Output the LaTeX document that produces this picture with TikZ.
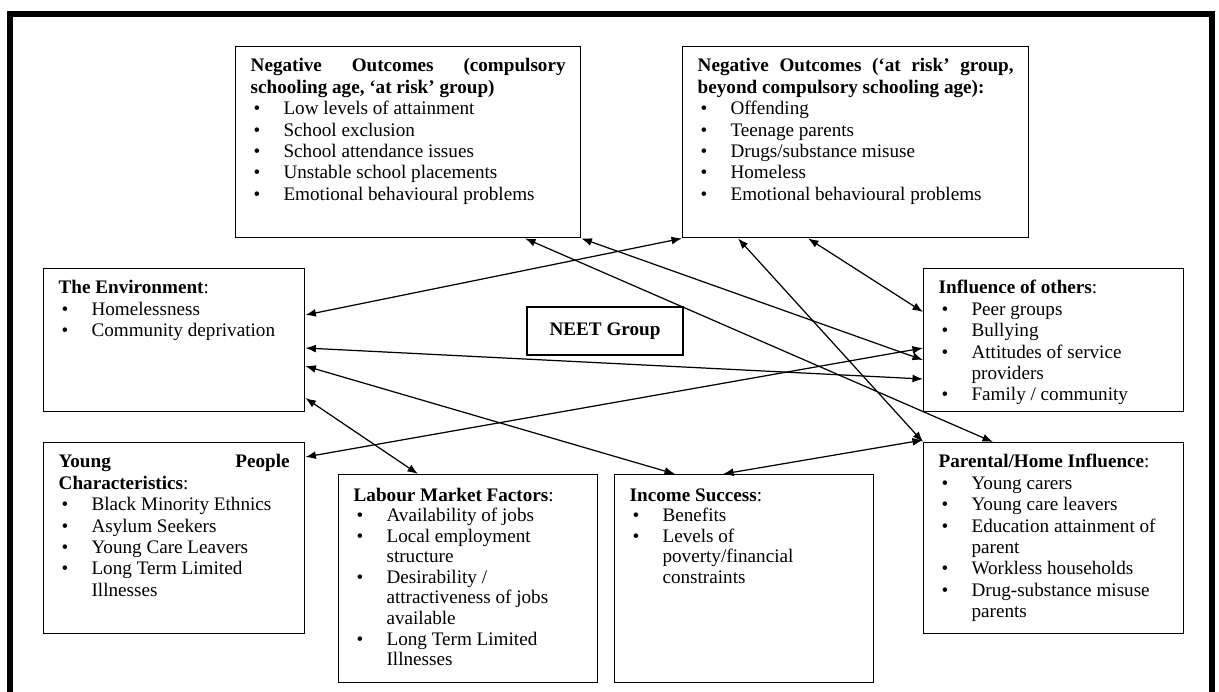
\documentclass[tikz,border=0pt]{standalone}
\usepackage{fontspec}
\setmainfont{Liberation Serif}
\usetikzlibrary{arrows.meta}

\newcommand{\boxtext}[3]{\parbox[c][\dimexpr#2cm-0.4cm\relax][t]{\dimexpr#1cm-0.6cm\relax}{\fontsize{10.9pt}{12.2pt}\selectfont\raggedright #3}}
\newcommand{\itm}{\par\hspace*{1.7pt}\makebox[17pt][l]{\textbullet}}
\newcommand{\cnt}{\par\hspace*{18.7pt}}

\begin{document}
\begin{tikzpicture}[x=0.02cm,y=-0.02cm]

\tikzstyle{box} = [draw=black,line width=0.8pt,inner xsep=0.3cm,inner ysep=0.2cm,anchor=north west]
\tikzstyle{edge} = [{Latex[length=6pt,width=4.5pt]}-{Latex[length=6pt,width=4.5pt]},line width=0.7pt]

\useasboundingbox (0,0) rectangle (1219,691);
\draw[line width=3.4pt] (10,14) rectangle (1212,720);

\node[box](negA) at (235,46){\boxtext{6.9}{3.82}{%
\hbox to\linewidth{\strut\bfseries Negative\hfill Outcomes\hfill (compulsory}
\textbf{schooling age, `at risk' group)}
\itm Low levels of attainment
\itm School exclusion
\itm School attendance issues
\itm Unstable school placements
\itm Emotional behavioural problems}};

\node[box](negB) at (682,46){\boxtext{6.92}{3.82}{%
\hbox to\linewidth{\strut\bfseries Negative\hfill Outcomes\hfill (`at\hfill risk'\hfill group,}
\textbf{beyond compulsory schooling age):}
\itm Offending
\itm Teenage parents
\itm Drugs/substance misuse
\itm Homeless
\itm Emotional behavioural problems}};

\node[box](env) at (43,268){\boxtext{5.22}{2.86}{%
\strut\textbf{The Environment}:
\itm Homelessness
\itm Community deprivation}};

\node[draw=black,line width=0.8pt,minimum width=3.12cm,minimum height=0.96cm](neet) at (605,331){\fontsize{10.9pt}{12.2pt}\selectfont\bfseries NEET Group};

\node[box](infl) at (923,268){\boxtext{5.2}{2.86}{%
\strut\textbf{Influence of others}:
\itm Peer groups
\itm Bullying
\itm Attitudes of service
\cnt providers
\itm Family / community}};

\node[box](young) at (43,442){\boxtext{5.22}{3.82}{%
\hbox to\linewidth{\strut\bfseries Young\hfill People}
\textbf{Characteristics}:
\itm Black Minority Ethnics
\itm Asylum Seekers
\itm Young Care Leavers
\itm Long Term Limited
\cnt Illnesses}};

\node[box](labour) at (338,474){\boxtext{5.18}{4.16}{%
\fontsize{10.9pt}{11.7pt}\selectfont
\vspace*{0.04cm}\strut\textbf{Labour Market Factors}:
\itm Availability of jobs
\itm Local employment
\cnt structure
\itm Desirability /
\cnt attractiveness of jobs
\cnt available
\itm Long Term Limited
\cnt Illnesses}};

\node[box](income) at (614,474){\boxtext{5.18}{4.16}{%
\fontsize{10.9pt}{11.7pt}\selectfont
\vspace*{0.04cm}\strut\textbf{Income Success}:
\itm Benefits
\itm Levels of
\cnt poverty/financial
\cnt constraints}};

\node[box](parent) at (923,442){\boxtext{5.2}{3.82}{%
\strut\textbf{Parental/Home Influence}:
\itm Young carers
\itm Young care leavers
\itm Education attainment of
\cnt parent
\itm Workless households
\itm Drug-substance misuse
\cnt parents}};

\draw[edge] ([shift={(0,47)}]env.north east) -- (negB.south west);
\draw[edge] ([shift={(290,0)}]negA.south west) -- ([shift={(70,0)}]parent.north west);
\draw[edge] (negA.south east) -- ([shift={(0,92)}]infl.north west);
\draw[edge] ([shift={(56,0)}]negB.south west) -- (parent.north west);
\draw[edge] ([shift={(126,0)}]negB.south west) -- ([shift={(0,44)}]infl.north west);
\draw[edge] ([shift={(0,80)}]env.north east) -- ([shift={(0,111)}]infl.north west);
\draw[edge] ([shift={(0,98)}]env.north east) -- ([shift={(61,0)}]income.north west);
\draw[edge] ([shift={(0,130)}]env.north east) -- ([shift={(80,0)}]labour.north west);
\draw[edge] ([shift={(0,15)}]young.north east) -- ([shift={(0,80)}]infl.north west);
\draw[edge] ([shift={(109,0)}]income.north west) -- ([shift={(0,-2)}]parent.north west);

\end{tikzpicture}
\end{document}
